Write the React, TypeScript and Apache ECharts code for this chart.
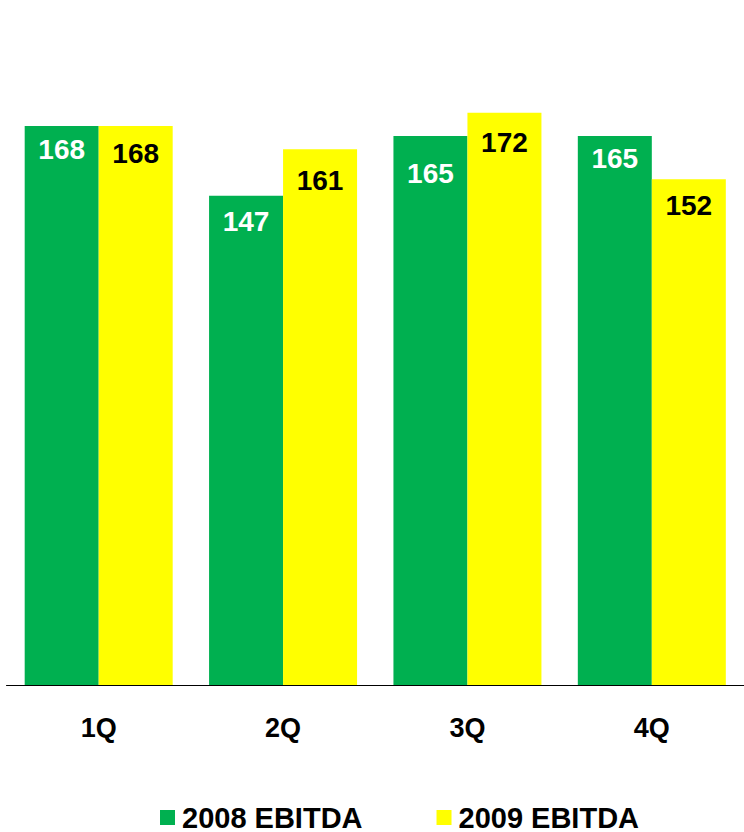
import React, { useEffect, useRef } from "react";
import * as echarts from "echarts";

// Quarterly EBITDA, 2008 vs 2009
const quarters = ["1Q", "2Q", "3Q", "4Q"];
const ebitda2008 = [168, 147, 165, 165];
const ebitda2009 = [168, 161, 172, 152];
const seriesNames = ["2008 EBITDA", "2009 EBITDA"];

// Layout: how far each value label sits below its bar's top edge
const labelDrop2008 = [10, 12, 24, 9];
const labelDrop2009 = [14, 17, 16, 12];

const FONT = "Arial, 'Liberation Sans', Helvetica, sans-serif";
const GREEN = "#00B050";
const YELLOW = "#FFFF00";

function withLabelOffsets(values: number[], drops: number[]) {
  return values.map((v, i) => ({
    value: v,
    label: { offset: [0, drops[i]] },
  }));
}

export default function App() {
  const ref = useRef<HTMLDivElement>(null);

  useEffect(() => {
    if (!ref.current) return;
    const chart = echarts.init(ref.current, undefined, { renderer: "svg" });
    const labelBase = {
      show: true,
      position: "insideTop",
      distance: 0,
      fontFamily: FONT,
      fontWeight: "bold",
      fontSize: 28,
    };
    chart.setOption({
      animation: false,
      backgroundColor: "#ffffff",
      grid: {
        left: 6.5,
        width: 740,
        top: 19.5,
        height: 665.5,
        containLabel: false,
      },
      legend: {
        left: 160,
        top: 803,
        padding: 0,
        itemWidth: 15,
        itemHeight: 15,
        itemGap: 74,
        icon: "rect",
        data: seriesNames,
        textStyle: {
          fontFamily: FONT,
          fontWeight: "bold",
          fontSize: 29,
          color: "#000000",
          padding: [0, 0, 0, 2],
        },
      },
      xAxis: {
        type: "category",
        data: quarters,
        axisLine: { show: true, lineStyle: { color: "#000000", width: 1 } },
        axisTick: { show: false },
        axisLabel: {
          margin: 29,
          fontFamily: FONT,
          fontWeight: "bold",
          fontSize: 27,
          color: "#000000",
        },
      },
      yAxis: {
        type: "value",
        min: 0,
        max: 200,
        show: false,
        splitLine: { show: false },
      },
      series: [
        {
          name: seriesNames[0],
          type: "bar",
          barWidth: 74,
          barGap: "0%",
          itemStyle: { color: GREEN },
          label: { ...labelBase, color: "#ffffff" },
          data: withLabelOffsets(ebitda2008, labelDrop2008),
        },
        {
          name: seriesNames[1],
          type: "bar",
          barWidth: 74,
          barGap: "0%",
          itemStyle: { color: YELLOW },
          label: { ...labelBase, color: "#000000" },
          data: withLabelOffsets(ebitda2009, labelDrop2009),
        },
      ],
    });
    return () => chart.dispose();
  }, []);

  return (
    <div
      ref={ref}
      style={{ position: "absolute", left: 0, top: 0, width: 744, height: 832 }}
    />
  );
}
